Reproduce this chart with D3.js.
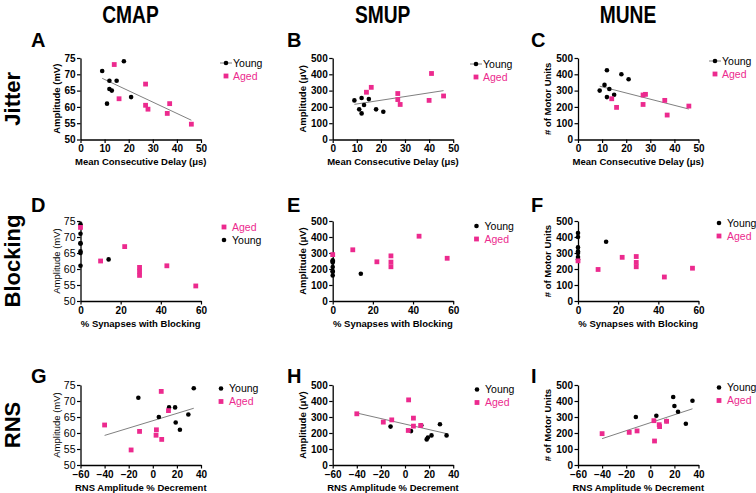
<!DOCTYPE html>
<html><head><meta charset="utf-8">
<script src="https://cdn.jsdelivr.net/npm/d3@7"></script>
<style>body{margin:0;background:#fff}svg{display:block}text{font-family:"Liberation Sans",Arial,sans-serif}</style>
</head><body><svg id="c" width="756" height="493"></svg>
<script>
// ---------- data ----------
const columnTitles = ["CMAP", "SMUP", "MUNE"];
const rowTitles = ["Jitter", "Blocking", "RNS"];
const panelLetters = ["A","B","C","D","E","F","G","H","I"];
const seriesNames = ["Young", "Aged"];

const xTicksJitter = [0, 10, 20, 30, 40, 50];
const xTicksBlocking = [0, 20, 40, 60];
const xTicksRNS = [-60, -40, -20, 0, 20, 40];
const yTicksCMAP = [50, 55, 60, 65, 70, 75];
const yTicksUV = [0, 100, 200, 300, 400, 500];

const xTitles = ["Mean Consecutive Delay (\u03bcs)", "% Synapses with Blocking", "RNS Amplitude % Decrement"];
const yTitles = ["Amplitude (mV)", "Amplitude (\u03bcV)", "# of Motor Units"];

const aYoung = [[9,71],[18,74],[12,68],[15,68],[12,65.5],[13,65],[11,61],[21,63]];
const aAged  = [[14,73],[27,67],[16,62.5],[27,60.5],[28,59.3],[37,61],[36,58],[46,54.7]];
const bYoung = [[9,240],[12,255],[11,185],[12,160],[13,212],[15,248],[18,185],[21,170]];
const bAged  = [[14,290],[16,320],[27,282],[27,245],[28,215],[40,240],[41,405],[46,267]];
const cYoung = [[9,300],[11,335],[12,425],[12,260],[13,310],[15,275],[18,400],[21,370]];
const cAged  = [[14,250],[16,197],[27,273],[28,277],[27,215],[36,240],[37,150],[46,205]];

const dYoung = [[0,71],[0,74],[0,68],[0,68],[0,65.5],[0,65],[0,61],[14,63]];
const dAged  = [[0,73],[10,62.5],[22,67],[29.4,60.5],[29.4,59.3],[29.4,58],[43,61],[57.4,54.7]];
const eYoung = [[0,240],[0,255],[0,185],[0,160],[0,212],[0,248],[0,185],[14,170]];
const eAged  = [[0,290],[10,320],[22,245],[29,282],[29,243],[29,214],[43,405],[57,267]];
const fYoung = [[0,300],[0,335],[0,425],[0,260],[0,310],[0,275],[0,400],[14,370]];
const fAged  = [[0,251],[10,197],[22,273],[29,278],[29,241],[29,214],[43,150],[57,205]];

const gYoung = [[-12,71],[5,65],[13.5,68],[18.5,68],[19,63.3],[22.5,61],[29.5,65.8],[34,74]];
const gAged  = [[-40,62.5],[-18,54.7],[-11,60.5],[3,61],[2.7,59.3],[7,73],[7.4,58],[13,67]];
const hYoung = [[-12,240],[5,212],[13.5,248],[18,160],[19,172],[22,185],[29,255],[34.5,185]];
const hAged  = [[-40,320],[-18,268],[-11,282],[2.7,216],[3,407],[7,293],[7,243],[13,247]];
const iYoung = [[-12,300],[5,308],[13.5,275],[19,425],[20,369],[23,333],[29.5,258],[35,402]];
const iAged  = [[-40,196],[-17.5,204],[-11,213],[3,277],[3.5,150],[7.4,252],[7.7,240],[13.5,273]];

// ---------- layout ----------
const PINK = "#ec2a8e";
const colLeft = [80.5, 332.7, 578];
const plotW = 120.5;
const rowTop = [58, 221, 385];
const rowBot = [139.5, 301, 465];
const ytitleOff = [21, 27, 27];
const letterX = [31, 287, 531];
const letterY = [47, 212, 383];

const svg = d3.select("#c");

const panels = [
 {r:0,c:0,young:aYoung,aged:aAged,xd:[0,50],xt:xTicksJitter,yd:[50,75],yt:yTicksCMAP,fit:true,legLine:true,legendOrder:[0,1],leg:[226,63],yBold:true},
 {r:0,c:1,young:bYoung,aged:bAged,xd:[0,50],xt:xTicksJitter,yd:[0,500],yt:yTicksUV,fit:true,legLine:true,legendOrder:[0,1],leg:[476,64],yBold:true},
 {r:0,c:2,young:cYoung,aged:cAged,xd:[0,50],xt:xTicksJitter,yd:[0,500],yt:yTicksUV,fit:true,legLine:true,legendOrder:[0,1],leg:[715,61],yBold:true},
 {r:1,c:0,young:dYoung,aged:dAged,xd:[0,60],xt:xTicksBlocking,yd:[50,75],yt:yTicksCMAP,fit:false,legLine:false,legendOrder:[1,0],leg:[224,227],yBold:false},
 {r:1,c:1,young:eYoung,aged:eAged,xd:[0,60],xt:xTicksBlocking,yd:[0,500],yt:yTicksUV,fit:false,legLine:false,legendOrder:[0,1],leg:[476.5,226],yBold:true},
 {r:1,c:2,young:fYoung,aged:fAged,xd:[0,60],xt:xTicksBlocking,yd:[0,500],yt:yTicksUV,fit:false,legLine:false,legendOrder:[0,1],leg:[719,223],yBold:true},
 {r:2,c:0,young:gYoung,aged:gAged,xd:[-60,40],xt:xTicksRNS,yd:[50,75],yt:yTicksCMAP,fit:true,legLine:false,legendOrder:[0,1],leg:[221,388.5],yBold:false},
 {r:2,c:1,young:hYoung,aged:hAged,xd:[-60,40],xt:xTicksRNS,yd:[0,500],yt:yTicksUV,fit:true,legLine:false,legendOrder:[0,1],leg:[477,389.5],yBold:true},
 {r:2,c:2,young:iYoung,aged:iAged,xd:[-60,40],xt:xTicksRNS,yd:[0,500],yt:yTicksUV,fit:true,legLine:false,legendOrder:[0,1],leg:[719,387.5],yBold:true}
];

function linfit(pts){
  const mx=d3.mean(pts,d=>d[0]), my=d3.mean(pts,d=>d[1]);
  const sxy=d3.sum(pts,d=>(d[0]-mx)*(d[1]-my)), sxx=d3.sum(pts,d=>(d[0]-mx)**2);
  const b=sxy/sxx; return {a:my-b*mx,b};
}

columnTitles.forEach((t,i)=>{
  const cx = colLeft[i] + 50;
  svg.append("text").attr("transform",`translate(${cx},23) scale(0.8,1)`)
    .attr("text-anchor","middle").attr("font-size",24).attr("font-weight","bold").text(t);
});
rowTitles.forEach((t,i)=>{
  const cy=(rowTop[i]+rowBot[i])/2;
  svg.append("text").attr("transform",`translate(20,${cy}) rotate(-90)`)
    .attr("text-anchor","middle").attr("font-size",22).attr("font-weight","bold").text(t);
});

panels.forEach((p,k)=>{
  const L=colLeft[p.c], R=L+plotW, T=rowTop[p.r], B=rowBot[p.r];
  const x=d3.scaleLinear().domain(p.xd).range([L,R]);
  const y=d3.scaleLinear().domain(p.yd).range([B,T]);
  const g=svg.append("g");

  svg.append("text").attr("x",letterX[p.c]).attr("y",letterY[p.r])
    .attr("font-size",20).attr("font-weight","bold").text(panelLetters[k]);

  const xa=g.append("g").attr("transform",`translate(0,${B})`)
    .call(d3.axisBottom(x).tickValues(p.xt).tickSize(3.5).tickSizeOuter(0).tickFormat(d3.format("d")));
  const ya=g.append("g").attr("transform",`translate(${L},0)`)
    .call(d3.axisLeft(y).tickValues(p.yt).tickSize(3.5).tickSizeOuter(0).tickFormat(d3.format("d")));
  [xa,ya].forEach(a=>{
    a.select(".domain").attr("stroke","#000").attr("stroke-width",1.3);
    a.selectAll(".tick line").attr("stroke","#000").attr("stroke-width",1.2);
    a.selectAll(".tick text").attr("font-size",10).attr("font-weight","bold")
     .attr("font-family","'Liberation Sans',Arial,sans-serif").attr("fill","#000");
  });
  if(!p.yBold) ya.selectAll(".tick text").attr("font-weight","normal").attr("font-size",10.5);
  xa.selectAll(".tick text").attr("dy","0.71em").attr("y",5.5);
  ya.selectAll(".tick text").attr("x",-5);

  g.append("text").attr("x",(L+R)/2).attr("y",B+25.5).attr("text-anchor","middle")
    .attr("font-size",9.5).attr("font-weight","bold").text(xTitles[p.r]);
  g.append("text").attr("transform",`translate(${L-ytitleOff[p.c]},${(T+B)/2}) rotate(-90)`)
    .attr("text-anchor","middle").attr("font-size",9.5).attr("font-weight",p.yBold?"bold":"normal").text(yTitles[p.c]);

  if(p.fit){
    const all=p.young.concat(p.aged);
    const f=linfit(all);
    const [x0,x1]=d3.extent(all,d=>d[0]);
    g.append("line").attr("x1",x(x0)).attr("x2",x(x1))
      .attr("y1",y(f.a+f.b*x0)).attr("y2",y(f.a+f.b*x1))
      .attr("stroke","#808080").attr("stroke-width",1);
  }
  g.selectAll("circle.y").data(p.young).join("circle").attr("class","y")
    .attr("cx",d=>x(d[0])).attr("cy",d=>y(d[1])).attr("r",2.3).attr("fill","#000");
  g.selectAll("rect.a").data(p.aged).join("rect").attr("class","a")
    .attr("x",d=>x(d[0])-2.4).attr("y",d=>y(d[1])-2.4).attr("width",4.8).attr("height",4.8).attr("fill",PINK);

  p.legendOrder.forEach((s,j)=>{
    const lx=p.leg[0], ly=p.leg[1]+j*13;
    const lg=svg.append("g");
    if(s===0){
      if(p.legLine) lg.append("line").attr("x1",lx-6).attr("x2",lx+6).attr("y1",ly).attr("y2",ly).attr("stroke","#808080").attr("stroke-width",1);
      lg.append("circle").attr("cx",lx).attr("cy",ly).attr("r",2.3).attr("fill","#000");
    } else {
      lg.append("rect").attr("x",lx-2.4).attr("y",ly-2.4).attr("width",4.8).attr("height",4.8).attr("fill",PINK);
    }
    lg.append("text").attr("x",lx+(p.legLine?7:8)).attr("y",ly+3.8).attr("font-size",10.5)
      .attr("fill",s===0?"#000":PINK).text(seriesNames[s]);
  });
});
</script></body></html>
